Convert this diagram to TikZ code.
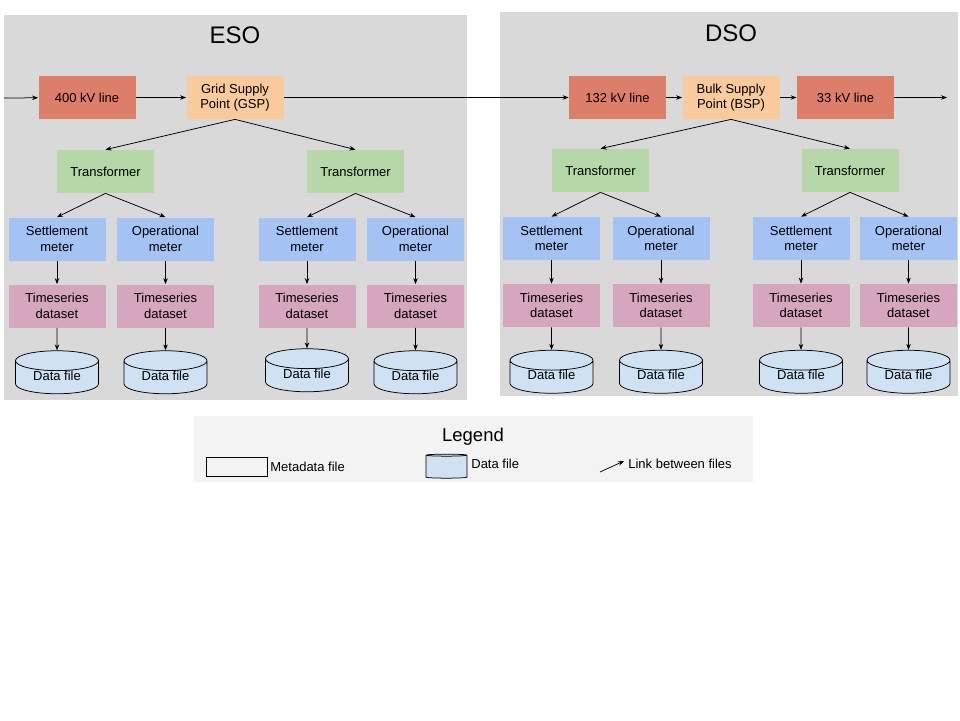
\documentclass[tikz,border=0pt]{standalone}
\usepackage{fontspec}
\setmainfont{Liberation Sans}
\usetikzlibrary{positioning,shapes.geometric,arrows.meta}

\definecolor{linered}{HTML}{DD7E6B}
\definecolor{supplyorange}{HTML}{F9CB9C}
\definecolor{trafogreen}{HTML}{B6D7A8}
\definecolor{meterblue}{HTML}{A4C2F4}
\definecolor{seriespink}{HTML}{D5A6BD}
\definecolor{fileblue}{HTML}{CFE2F3}
\definecolor{areagray}{HTML}{D9D9D9}
\definecolor{legendgray}{HTML}{F3F3F3}

\tikzset{
  box/.style={rectangle, minimum width=97pt, minimum height=43pt, align=center,
    inner sep=2pt, font=\fontsize{13}{15.5}\selectfont},
  linebox/.style={box, fill=linered},
  supply/.style={box, fill=supplyorange},
  trafo/.style={box, fill=trafogreen},
  meter/.style={box, fill=meterblue},
  series/.style={box, fill=seriespink},
  datafile/.style={cylinder, shape border rotate=90, aspect=0.4, draw=black,
    fill=fileblue, minimum width=83pt, minimum height=41pt, inner sep=1pt,
    text height=8pt, text depth=5pt, font=\fontsize{13}{15.5}\selectfont},
  title/.style={font=\fontsize{24}{28}\selectfont},
  legendtext/.style={inner sep=0pt, font=\fontsize{13}{15.5}\selectfont},
}

\begin{document}
\begin{tikzpicture}[x=1pt,y=1pt,node distance=67pt,on grid,line width=0.75pt,
    >={Stealth[length=6pt,width=4.5pt]}]
  \useasboundingbox (0,0) rectangle (960,-720);
  % operator areas
  \fill[areagray] (4,-15) rectangle (467,-400);
  \fill[areagray] (500,-12) rectangle (958,-396);
  \node[title] (eso) at (235,-35) {ESO};
  \node[title] (dso) at (731,-33) {DSO};

  % ESO
  \coordinate (in) at (4,-98);
  \node[linebox] (kv400) at (87,-97.5) {400 kV line};
  \node[supply] (gsp) [right=148pt of kv400] {Grid Supply\\Point (GSP)};
  \node[trafo] (trfA) at (105.5,-171.5) {Transformer};
  \node[trafo] (trfB) at (355.5,-171.5) {Transformer};
  \node[meter] (setA) [below left=67.5pt and 48.5pt of trfA] {Settlement\\meter};
  \node[meter] (opA) [below right=67.5pt and 60pt of trfA] {Operational\\meter};
  \node[meter] (setB) [below left=67.5pt and 48.5pt of trfB] {Settlement\\meter};
  \node[meter] (opB) [below right=67.5pt and 60pt of trfB] {Operational\\meter};
  \node[series] (tsSetA) [below=of setA] {Timeseries\\dataset};
  \node[series] (tsOpA) [below=of opA] {Timeseries\\dataset};
  \node[series] (tsSetB) [below=of setB] {Timeseries\\dataset};
  \node[series] (tsOpB) [below=of opB] {Timeseries\\dataset};
  \node[datafile] (dfSetA) [below=72.5pt of tsSetA] {Data file};
  \node[datafile] (dfOpA) [below=72.5pt of tsOpA] {Data file};
  \node[datafile] (dfSetB) [below=70.5pt of tsSetB] {Data file};
  \node[datafile] (dfOpB) [below=72.5pt of tsOpB] {Data file};

  % DSO
  \node[linebox] (kv132) at (617.5,-97.5) {132 kV line};
  \node[supply] (bsp) [right=113.5pt of kv132] {Bulk Supply\\Point (BSP)};
  \node[linebox] (kv33) [right=114.5pt of bsp] {33 kV line};
  \coordinate (out) at (947,-97.5);
  \node[trafo] (trfC) at (600.5,-170.5) {Transformer};
  \node[trafo] (trfD) at (850,-170.5) {Transformer};
  \node[meter] (setC) [below left=68pt and 49pt of trfC] {Settlement\\meter};
  \node[meter] (opC) [below right=68pt and 60.5pt of trfC] {Operational\\meter};
  \node[meter] (setD) [below left=68pt and 49pt of trfD] {Settlement\\meter};
  \node[meter] (opD) [below right=68pt and 58.5pt of trfD] {Operational\\meter};
  \node[series] (tsSetC) [below=of setC] {Timeseries\\dataset};
  \node[series] (tsOpC) [below=of opC] {Timeseries\\dataset};
  \node[series] (tsSetD) [below=of setD] {Timeseries\\dataset};
  \node[series] (tsOpD) [below=of opD] {Timeseries\\dataset};
  \node[datafile] (dfSetC) [below=72.5pt of tsSetC] {Data file};
  \node[datafile] (dfOpC) [below=72.5pt of tsOpC] {Data file};
  \node[datafile] (dfSetD) [below=72.5pt of tsSetD] {Data file};
  \node[datafile] (dfOpD) [below=72.5pt of tsOpD] {Data file};

  \path[->]
    (in) edge (kv400)
    (kv400) edge (gsp)
    (gsp) edge (kv132)
    (kv132) edge (bsp)
    (bsp) edge (kv33)
    (kv33) edge (out)
    (gsp.south) edge (trfA.north) edge (trfB.north)
    (bsp.south) edge (trfC.north) edge (trfD.north)
    (trfA.south) edge (setA.north) edge (opA.north)
    (trfB.south) edge (setB.north) edge (opB.north)
    (trfC.south) edge (setC.north) edge (opC.north)
    (trfD.south) edge (setD.north) edge (opD.north);
  \path[->]
    (setA) edge (tsSetA) (tsSetA) edge (dfSetA)
    (opA) edge (tsOpA) (tsOpA) edge (dfOpA)
    (setB) edge (tsSetB) (tsSetB) edge (dfSetB)
    (opB) edge (tsOpB) (tsOpB) edge (dfOpB)
    (setC) edge (tsSetC) (tsSetC) edge (dfSetC)
    (opC) edge (tsOpC) (tsOpC) edge (dfOpC)
    (setD) edge (tsSetD) (tsSetD) edge (dfSetD)
    (opD) edge (tsOpD) (tsOpD) edge (dfOpD);

  % legend
  \fill[legendgray] (194,-416) rectangle (753,-482);
  \node[font=\fontsize{18.5}{22}\selectfont] (legend) at (473,-437) {Legend};
  \node[draw, minimum width=61pt, minimum height=19pt, inner sep=0pt] (meta) at (236.5,-466.5) {};
  \node[legendtext, anchor=west] (metalabel) at (270,-467) {Metadata file};
  \node[datafile, minimum width=41pt, minimum height=24pt, aspect=1] (legfile) at (446.5,-467) {};
  \node[legendtext, anchor=west] (filelabel) at (471,-464) {Data file};
  \coordinate (linkfrom) at (600,-472);
  \coordinate (linkto) at (624,-461);
  \draw[->] (linkfrom) -- (linkto);
  \node[legendtext, anchor=west] (linklabel) at (628,-464) {Link between files};
\end{tikzpicture}
\end{document}
